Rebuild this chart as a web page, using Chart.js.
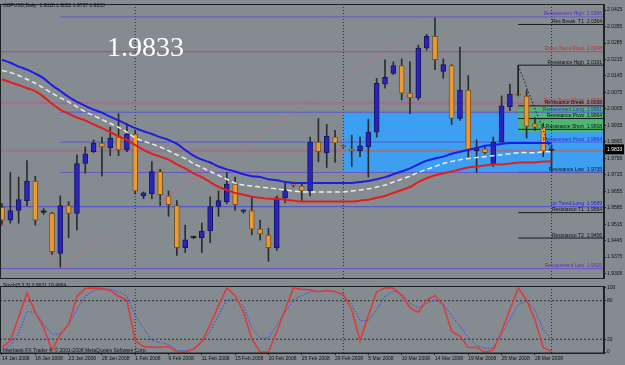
<!DOCTYPE html>
<html>
<head>
<meta charset="utf-8">
<script src="https://cdn.jsdelivr.net/npm/chart.js@4.4.1/dist/chart.umd.min.js"></script>
<style>
  body { margin: 0; background: #858c91; width: 625px; height: 365px; overflow: hidden; }
  canvas { position: absolute; left: 0; }
  #main { top: 0; }
  #stoch { top: 282px; }
</style>
</head>
<body>
<canvas id="main" width="625" height="282"></canvas>
<canvas id="stoch" width="625" height="83"></canvas>
<script>
'use strict'

// GBPUSD daily, one entry per bar (bar 0 = 14 Jan 2008)
const opens = [1.9586, 1.9532, 1.9573, 1.9615, 1.9698, 1.9565, 1.9561, 1.9390, 1.9594, 1.9561,
  1.9773, 1.9823, 1.9860, 1.9839, 1.9885, 1.9831, 1.9898, 1.9635, 1.9644, 1.9739,
  1.9635, 1.9594, 1.9415, 1.9457, 1.9457, 1.9486, 1.9590, 1.9611, 1.9685, 1.9569,
  1.9573, 1.9494, 1.9469, 1.9415, 1.9627, 1.9690, 1.9677, 1.9656, 1.9864, 1.9819,
  1.9885, 1.9848, 1.9835, 1.9827, 1.9843, 1.9906, 2.0110, 2.0156, 2.0189, 2.0072,
  2.0052, 2.0264, 2.0314, 2.0164, 2.0189, 1.9964, 2.0085, 1.9827, 1.9835, 1.9769,
  1.9864, 2.0014, 2.0065, 2.0060, 1.9943, 1.9927, 1.9828];
const highs = [1.9602, 1.9735, 1.9715, 1.9785, 1.9719, 1.9581, 1.9565, 1.9635, 1.9611, 1.9810,
  1.9843, 1.9873, 1.9885, 1.9927, 1.9985, 1.9943, 1.9914, 1.9652, 1.9781, 1.9748,
  1.9656, 1.9615, 1.9511, 1.9461, 1.9519, 1.9631, 1.9656, 1.9735, 1.9715, 1.9577,
  1.9631, 1.9532, 1.9498, 1.9635, 1.9694, 1.9694, 1.9685, 1.9885, 1.9964, 1.9939,
  1.9914, 1.9852, 1.9893, 1.9885, 1.9960, 2.0135, 2.0214, 2.0205, 2.0218, 2.0205,
  2.0276, 2.0322, 2.0393, 2.0218, 2.0193, 2.0268, 2.0147, 1.9873, 1.9843, 1.9885,
  2.0060, 2.0110, 2.0068, 2.0085, 1.9968, 1.9943, 1.9852];
const lows = [1.9511, 1.9519, 1.9519, 1.9594, 1.9511, 1.9556, 1.9386, 1.9332, 1.9457, 1.9490,
  1.9731, 1.9819, 1.9719, 1.9806, 1.9806, 1.9823, 1.9644, 1.9623, 1.9623, 1.9594,
  1.9548, 1.9382, 1.9394, 1.9453, 1.9394, 1.9436, 1.9548, 1.9602, 1.9573, 1.9561,
  1.9469, 1.9448, 1.9357, 1.9403, 1.9606, 1.9673, 1.9615, 1.9635, 1.9781, 1.9756,
  1.9777, 1.9839, 1.9760, 1.9802, 1.9715, 1.9885, 2.0093, 2.0151, 2.0043, 1.9985,
  2.0043, 2.0255, 2.0172, 2.0135, 1.9939, 1.9956, 1.9798, 1.9735, 1.9814, 1.9760,
  1.9864, 1.9997, 2.0060, 1.9881, 1.9914, 1.9802, 1.9737];
const closes = [1.9532, 1.9573, 1.9619, 1.9698, 1.9532, 1.9565, 1.9398, 1.9594, 1.9561, 1.9773,
  1.9814, 1.9860, 1.9843, 1.9881, 1.9831, 1.9898, 1.9656, 1.9648, 1.9739, 1.9640,
  1.9598, 1.9415, 1.9448, 1.9457, 1.9486, 1.9590, 1.9615, 1.9685, 1.9598, 1.9571,
  1.9494, 1.9473, 1.9415, 1.9627, 1.9660, 1.9681, 1.9656, 1.9864, 1.9823, 1.9889,
  1.9860, 1.9843, 1.9827, 1.9848, 1.9906, 2.0114, 2.0139, 2.0189, 2.0072, 2.0052,
  2.0264, 2.0314, 2.0214, 2.0193, 1.9964, 2.0085, 1.9831, 1.9839, 1.9819, 1.9864,
  2.0018, 2.0068, 2.0063, 1.9931, 1.9927, 1.9825, 1.9833];

// moving averages
const maBlue = [2.0214, 2.0201, 2.0185, 2.0172, 2.0155, 2.0135, 2.0106, 2.0081, 2.0056, 2.0035,
  2.0018, 2.0002, 1.9989, 1.9972, 1.9956, 1.9939, 1.9923, 1.9910, 1.9898, 1.9885,
  1.9873, 1.9856, 1.9831, 1.9806, 1.9789, 1.9777, 1.9760, 1.9748, 1.9739, 1.9727,
  1.9719, 1.9715, 1.9706, 1.9702, 1.9694, 1.9690, 1.9690, 1.9690, 1.9690, 1.9690,
  1.9690, 1.9690, 1.9690, 1.9694, 1.9698, 1.9706, 1.9715, 1.9727, 1.9739, 1.9752,
  1.9769, 1.9785, 1.9794, 1.9802, 1.9814, 1.9823, 1.9831, 1.9839, 1.9848, 1.9852,
  1.9856, 1.9860, 1.9860, 1.9860, 1.9860, 1.9860, 1.9860];
const maWhite = [2.0168, 2.0160, 2.0147, 2.0131, 2.0114, 2.0093, 2.0072, 2.0052, 2.0035, 2.0014,
  1.9993, 1.9977, 1.9960, 1.9943, 1.9927, 1.9906, 1.9881, 1.9868, 1.9856, 1.9843,
  1.9827, 1.9810, 1.9794, 1.9773, 1.9756, 1.9739, 1.9723, 1.9706, 1.9690, 1.9681,
  1.9677, 1.9673, 1.9669, 1.9665, 1.9660, 1.9656, 1.9652, 1.9652, 1.9652, 1.9652,
  1.9652, 1.9652, 1.9656, 1.9660, 1.9665, 1.9673, 1.9681, 1.9694, 1.9706, 1.9719,
  1.9735, 1.9748, 1.9760, 1.9773, 1.9781, 1.9789, 1.9794, 1.9798, 1.9802, 1.9806,
  1.9810, 1.9814, 1.9819, 1.9819, 1.9819, 1.9823, 1.9823];
const maRed = [2.0131, 2.0118, 2.0106, 2.0093, 2.0081, 2.0056, 2.0027, 2.0002, 1.9985, 1.9968,
  1.9956, 1.9939, 1.9923, 1.9906, 1.9889, 1.9873, 1.9852, 1.9831, 1.9814, 1.9802,
  1.9789, 1.9769, 1.9752, 1.9731, 1.9715, 1.9694, 1.9673, 1.9660, 1.9648, 1.9640,
  1.9631, 1.9627, 1.9623, 1.9623, 1.9619, 1.9615, 1.9611, 1.9611, 1.9611, 1.9611,
  1.9611, 1.9611, 1.9611, 1.9615, 1.9619, 1.9627, 1.9635, 1.9648, 1.9660, 1.9673,
  1.9694, 1.9710, 1.9723, 1.9731, 1.9739, 1.9748, 1.9756, 1.9760, 1.9764, 1.9769,
  1.9769, 1.9773, 1.9777, 1.9777, 1.9777, 1.9781, 1.9781];

// Stoch(5,3,3)
const stochMain = [7.4, 17.6, 54.4, 92.6, 61.8, 38.2, 2.9, 27.9, 42.6, 86.8,
  99, 100, 99, 96, 87, 81, 17.6, 8.8, 7.4, 7.4,
  8.8, 0, 0, 4.4, 16.2, 42.6, 72, 100, 88, 62,
  20.6, 0, 0, 32.4, 66.2, 100, 98, 97, 94, 96,
  94, 90, 66, 17.6, 57, 94, 100, 100, 88, 69,
  62, 81, 88, 74, 32, 25, 7, 7, 0, 3,
  32, 66, 100, 81, 51, 7, 0.9631];
const stochSignal = [3, 10, 29, 63, 62, 44, 28, 28, 43, 66,
  87, 96, 98, 98, 94, 87, 57, 37, 18, 15,
  12, 3, 2, 4, 15, 32, 57, 81, 82, 72,
  37, 22, 22, 43, 62, 81, 88, 94, 94, 96,
  94, 88, 74, 49, 49, 66, 87, 96, 90, 76,
  69, 76, 82, 74, 57, 40, 22, 10, 6, 6,
  28, 51, 74, 79, 66, 35, 19.4864];

// horizontal levels drawn by the indicator
const levelNames = ['Retracement High', 'Res Break  T1', 'Down Trend Pivot', 'Resistance High',
  'Down Trend Short', 'Resistance Break', 'Retracement Long', 'Resistance Pivot', 'Resistance Short',
  'Retracement Pivot', '', '', 'Resistance Low', 'Up Trend Long', 'Resistance T1', 'Resistance T2',
  'Retracement Low'];
const levelPrices = [2.0396, 2.0364, 2.0248, 2.0191, 2.0030, 2.0018, 1.9991, 1.9964, 1.9918,
  1.9864, 1.9827, 1.9735, 1.9735, 1.9589, 1.9564, 1.9456, 1.9326];
const levelFrom = [7, 62, -1, 62, -1, 62, 7, 62, 62, 7, -1, 7, 62, -1, 62, 62, -1];
const levelKinds = ['retr', 'res', 'down', 'res', 'band', 'res', 'retrL', 'res', 'res',
  'retrL', 'band', 'retr', 'res', 'up', 'res', 'res', 'retr'];

// zones: [from bar, top price, bottom price]
const blueZone = [40.95, 1.9986, 1.9735];
const greenZone = [62, 2.0010, 1.9906];

const zigBars = [-1, 7, 52];
const zigPrices = [1.9540, 1.9332, 2.0393];
const dropBars = [62, 66];
const dropPrices = [2.0189, 1.9823];

const gridBars = [16, 41, 66];
const dateTicks = [0, 4, 8, 12, 16, 20, 24, 28, 32, 36, 40, 44, 48, 52, 56, 60, 64];
const dateLabels = ['14 Jan 2008', '18 Jan 2008', '23 Jan 2008', '28 Jan 2008', '1 Feb 2008',
  '6 Feb 2008', '11 Feb 2008', '15 Feb 2008', '20 Feb 2008', '25 Feb 2008', '29 Feb 2008',
  '5 Mar 2008', '10 Mar 2008', '14 Mar 2008', '19 Mar 2008', '25 Mar 2008', '28 Mar 2008'];
const priceTicks = [2.0425, 2.0355, 2.0285, 2.0215, 2.0145, 2.0075, 2.0005, 1.9935, 1.9865,
  1.9795, 1.9725, 1.9655, 1.9585, 1.9515, 1.9445, 1.9375, 1.9305];
const stochTicks = [0, 20, 80, 100];
const stochLevels = [20, 80];

const X_MIN = -0.24, X_MAX = 72.3;
const P_MIN = 1.9286, P_MAX = 2.0451;
const S_MIN = -1.47, S_MAX = 102.94;

const kindStyle = {
  retr: { line: '#6a52c4', text: '#5a2ec8', width: 1 },
  retrL: { line: '#5656d4', text: '#2a2ae0', width: 1 },
  res: { line: '#1a1a1a', text: '#111111', width: 1 },
  down: { line: '#b44a5a', text: '#d02a2a', width: 1 },
  band: { line: '#9c7288', text: '#d02a2a', width: 2.5 },
  up: { line: '#4a4ad8', text: '#2020f0', width: 1 }
};

Chart.defaults.font.family = "'Liberation Sans', Arial, sans-serif";
Chart.defaults.font.size = 5;

const bars = opens.map((_, i) => i);
const n = bars.length - 1;

function bodyColor(i) {
  if (opens[i] === closes[i]) return '#262626';
  return closes[i] > opens[i] ? '#2a24bd' : '#f09a2c';
}
function bodyBorder(i) {
  return closes[i] > opens[i] ? '#16165c' : '#70532e';
}

function flatLine(x0, x1, y, color, width, dash, order) {
  return {
    type: 'line', data: [{ x: x0, y: y }, { x: x1, y: y }],
    borderColor: color, borderWidth: width, borderDash: dash || [],
    pointRadius: 0, fill: false, order: order
  };
}

const mainSets = [];

// zones behind everything
[[blueZone, '#3d9ff2'], [greenZone, '#4fb574']].forEach(([z, c], k) => {
  mainSets.push({
    type: 'line', data: [{ x: z[0], y: z[1] }, { x: X_MAX, y: z[1] }],
    borderWidth: 0, pointRadius: 0, backgroundColor: c,
    fill: { value: z[2] }, order: 60 - k
  });
});

gridBars.forEach(b => {
  mainSets.push({
    type: 'line', data: [{ x: b, y: P_MIN }, { x: b, y: P_MAX }],
    borderColor: '#2a2a2a', borderWidth: 1, borderDash: [1, 2], pointRadius: 0, order: 50
  });
});

levelPrices.forEach((p, i) => {
  const st = kindStyle[levelKinds[i]];
  mainSets.push(flatLine(levelFrom[i], X_MAX, p, st.line, st.width, [], 45));
});

mainSets.push({
  type: 'bar', data: bars.map(i => ({ x: i, y: [lows[i], highs[i]] })),
  backgroundColor: '#2c2c2c', barThickness: 1, grouped: false, borderWidth: 0, order: 30
});
mainSets.push({
  type: 'bar', data: bars.map(i => ({ x: i, y: [opens[i], closes[i]] })),
  backgroundColor: ctx => bodyColor(ctx.dataIndex),
  borderColor: ctx => bodyBorder(ctx.dataIndex),
  borderWidth: ctx => (opens[ctx.dataIndex] === closes[ctx.dataIndex] ? 0 : 1),
  borderSkipped: false, barThickness: 5, minBarLength: 1.5, grouped: false, order: 25
});

[[maRed, '#e41c1c', 2, []], [maWhite, '#ececec', 1.5, [5, 3]], [maBlue, '#1c1ce6', 2, []]].forEach(([arr, c, w, d], k) => {
  mainSets.push({
    type: 'line', data: arr.map((v, i) => ({ x: i, y: v })),
    borderColor: c, borderWidth: w, borderDash: d, pointRadius: 0, tension: 0.3, order: 12 - k
  });
});

mainSets.push({
  type: 'line', data: zigBars.map((b, i) => ({ x: b, y: zigPrices[i] })),
  borderColor: '#c8606c', borderWidth: 1, borderDash: [1.5, 2], pointRadius: 0, order: 5
});
mainSets.push({
  type: 'line', data: dropBars.map((b, i) => ({ x: b, y: dropPrices[i] })),
  borderColor: '#1a1a1a', borderWidth: 1, borderDash: [1.5, 2], pointRadius: 0, order: 5
});
// bracket from resistance high down to the doji
mainSets.push({
  type: 'line', data: [{ x: dropBars[0], y: levelPrices[3] }, { x: dropBars[0], y: opens[62] }],
  borderColor: '#1a1a1a', borderWidth: 1, pointRadius: 0, order: 6
});

const mainOverlay = {
  id: 'mainOverlay',
  afterDraw(chart) {
    const ctx = chart.ctx, a = chart.chartArea, y = chart.scales.y;
    ctx.save();
    ctx.strokeStyle = '#202020';
    ctx.lineWidth = 1;
    ctx.strokeRect(a.left + 0.5, a.top + 0.5, a.right - a.left - 1, a.bottom - a.top);

    ctx.font = "5px 'Liberation Sans'";
    ctx.textAlign = 'right';
    ctx.textBaseline = 'alphabetic';
    levelPrices.forEach((p, i) => {
      if (!levelNames[i]) return;
      ctx.fillStyle = kindStyle[levelKinds[i]].text;
      ctx.fillText(levelNames[i] + '  ' + p.toFixed(4), a.right - 2, y.getPixelForValue(p) - 1.5);
    });

    ctx.textAlign = 'left';
    ctx.textBaseline = 'middle';
    ctx.fillStyle = '#111';
    const ohlc = [opens[n], highs[n], lows[n], closes[n]].map(v => v.toFixed(4)).join(' ');
    ctx.fillText('GBPUSD,Daily  ' + ohlc, 3, 5.5);

    // current price tag on the axis
    const py = y.getPixelForValue(closes[n]);
    ctx.fillStyle = '#000';
    ctx.fillRect(a.right + 1, py - 5, 19, 10);
    ctx.fillStyle = '#fff';
    ctx.fillText(closes[n].toFixed(4), a.right + 3, py + 0.5);

    ctx.font = "28px 'Liberation Serif'";
    ctx.textBaseline = 'alphabetic';
    ctx.fillStyle = '#ffffff';
    ctx.fillText(closes[n].toFixed(4), 107, 56);
    ctx.restore();
  }
};

new Chart(document.getElementById('main'), {
  type: 'bar',
  data: { datasets: mainSets },
  options: {
    responsive: false, animation: false, devicePixelRatio: 1,
    layout: { padding: { top: 1, bottom: 1, left: 0, right: 0 } },
    plugins: { legend: { display: false }, tooltip: { enabled: false } },
    scales: {
      x: { type: 'linear', min: X_MIN, max: X_MAX, display: false, offset: false },
      y: {
        type: 'linear', position: 'right', min: P_MIN, max: P_MAX,
        afterFit: s => { s.width = 21; },
        afterBuildTicks: s => { s.ticks = priceTicks.map(v => ({ value: v })); },
        ticks: { callback: v => v.toFixed(4), color: '#111', padding: 1, autoSkip: false },
        grid: { drawOnChartArea: false, tickLength: 2, color: '#222' },
        border: { color: '#222' }
      }
    }
  },
  plugins: [mainOverlay]
});

// ---- stochastic pane ----
const stochSets = [];
gridBars.forEach(b => {
  stochSets.push({
    data: [{ x: b, y: S_MIN }, { x: b, y: S_MAX }],
    borderColor: '#2a2a2a', borderWidth: 1, borderDash: [1, 2], pointRadius: 0, order: 50
  });
});
stochLevels.forEach(v => {
  stochSets.push(flatLine(X_MIN, X_MAX, v, '#2a2a2a', 1, [2, 2], 50));
});
stochSets.push({
  data: stochSignal.map((v, i) => ({ x: i, y: v })),
  borderColor: '#3a44ea', borderWidth: 1, borderDash: [1.5, 1.5], pointRadius: 0, order: 10
});
stochSets.push({
  data: stochMain.map((v, i) => ({ x: i, y: v })),
  borderColor: '#e03838', borderWidth: 1.5, pointRadius: 0, order: 5
});

const stochOverlay = {
  id: 'stochOverlay',
  afterDraw(chart) {
    const ctx = chart.ctx, a = chart.chartArea;
    ctx.save();
    ctx.strokeStyle = '#202020';
    ctx.lineWidth = 1;
    ctx.strokeRect(a.left + 0.5, a.top + 0.5, a.right - a.left - 1, a.bottom - a.top - 0.5);
    ctx.font = "5px 'Liberation Sans'";
    ctx.fillStyle = '#111';
    ctx.textBaseline = 'middle';
    ctx.fillText('Stoch(5,3,3) ' + stochMain[n].toFixed(4) + ' ' + stochSignal[n].toFixed(4), 3, 3.5);
    ctx.fillText('Interbank FX Trader 4, \u00a9 2001-2008 MetaQuotes Software Corp.', 3, 68.5);
    ctx.restore();
  }
};

new Chart(document.getElementById('stoch'), {
  type: 'line',
  data: { datasets: stochSets },
  options: {
    responsive: false, animation: false, devicePixelRatio: 1,
    layout: { padding: 0 },
    plugins: { legend: { display: false }, tooltip: { enabled: false } },
    scales: {
      x: {
        type: 'linear', min: X_MIN, max: X_MAX, position: 'bottom',
        afterFit: s => { s.height = 12; },
        afterBuildTicks: s => { s.ticks = dateTicks.map(v => ({ value: v })); },
        ticks: {
          callback: v => dateLabels[dateTicks.indexOf(v)],
          align: 'start', maxRotation: 0, autoSkip: false, color: '#111', padding: 1
        },
        grid: { drawOnChartArea: false, tickLength: 2, color: '#222' },
        border: { color: '#222' }
      },
      y: {
        type: 'linear', position: 'right', min: S_MIN, max: S_MAX,
        afterFit: s => { s.width = 21; },
        afterBuildTicks: s => { s.ticks = stochTicks.map(v => ({ value: v })); },
        ticks: { color: '#111', padding: 1, autoSkip: false },
        grid: { drawOnChartArea: false, tickLength: 2, color: '#222' },
        border: { color: '#222' }
      }
    }
  },
  plugins: [stochOverlay]
});
</script>
</body>
</html>
